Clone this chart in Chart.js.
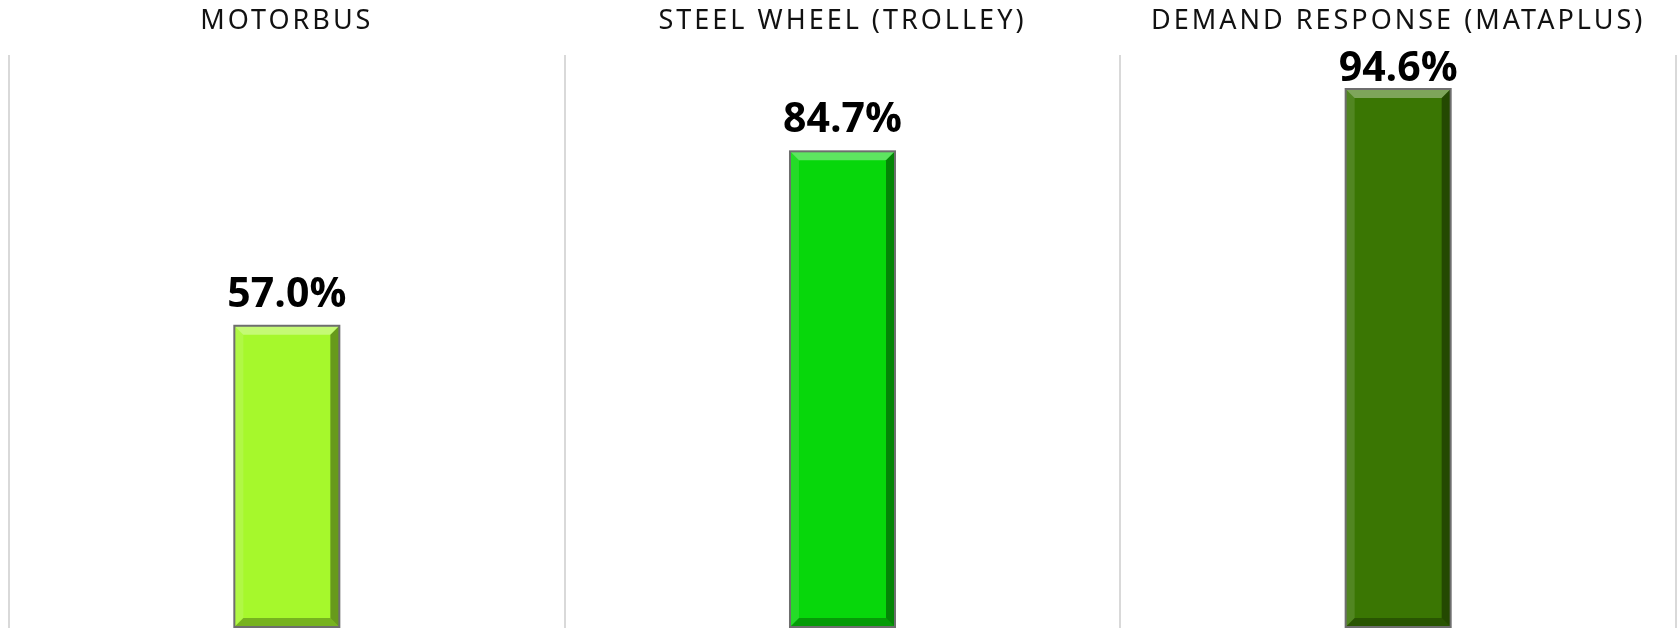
<!DOCTYPE html>
<html>
<head>
<meta charset="utf-8">
<script src="https://cdn.jsdelivr.net/npm/chart.js@4"></script>
<style>
  html, body { margin: 0; padding: 0; background: #fff; overflow: hidden; }
  #wrap { width: 1680px; height: 628px; }
</style>
</head>
<body>
<div id="wrap"><canvas id="ridershipChart"></canvas></div>
<script>
const categories = ["MOTORBUS", "STEEL WHEEL (TROLLEY)", "DEMAND RESPONSE (MATAPLUS)"];
const shareValues = [57.0, 84.7, 94.6];
const barColors = ["#a6f82c", "#07d70b", "#3a7603"];

// bevel + border + value labels drawn on top of the library's bar elements
const bevelBars = {
  id: "bevelBars",
  afterDatasetsDraw(chart) {
    const ctx = chart.ctx;
    const area = chart.chartArea;
    const meta = chart.getDatasetMeta(0);
    meta.data.forEach((bar, i) => {
      const p = bar.getProps(["x", "y", "base", "width"], true);
      const l = p.x - p.width / 2, r = p.x + p.width / 2;
      const t = p.y, b = Math.min(p.base, area.bottom - 1);
      const d = 9;
      ctx.save();
      // top
      ctx.fillStyle = "rgba(255,255,255,0.35)";
      ctx.beginPath();
      ctx.moveTo(l, t); ctx.lineTo(r, t); ctx.lineTo(r - d, t + d); ctx.lineTo(l + d, t + d);
      ctx.closePath(); ctx.fill();
      // left
      ctx.fillStyle = "rgba(255,255,255,0.12)";
      ctx.beginPath();
      ctx.moveTo(l, t); ctx.lineTo(l + d, t + d); ctx.lineTo(l + d, b - d); ctx.lineTo(l, b);
      ctx.closePath(); ctx.fill();
      // right
      ctx.fillStyle = "rgba(0,0,0,0.38)";
      ctx.beginPath();
      ctx.moveTo(r, t); ctx.lineTo(r - d, t + d); ctx.lineTo(r - d, b - d); ctx.lineTo(r, b);
      ctx.closePath(); ctx.fill();
      // bottom
      ctx.fillStyle = "rgba(0,0,0,0.28)";
      ctx.beginPath();
      ctx.moveTo(l, b); ctx.lineTo(l + d, b - d); ctx.lineTo(r - d, b - d); ctx.lineTo(r, b);
      ctx.closePath(); ctx.fill();
      // outline
      ctx.strokeStyle = "#6e6e6e";
      ctx.lineWidth = 2;
      ctx.strokeRect(l, t, r - l, b - t);

      // value label, kept inside the plot area like the original
      ctx.letterSpacing = "0px";
      ctx.fillStyle = "#000";
      ctx.font = "bold 41px 'Open Sans'";
      ctx.textAlign = "center";
      ctx.textBaseline = "alphabetic";
      const ly = Math.max(t - 19, area.top + 26);
      ctx.fillText(shareValues[i].toFixed(1) + "%", p.x, ly);
      ctx.restore();
    });
  }
};

const spacedTicks = {
  id: "spacedTicks",
  beforeDraw(chart) { chart.ctx.letterSpacing = "3px"; },
  afterDraw(chart) { chart.ctx.letterSpacing = "0px"; }
};

new Chart(document.getElementById("ridershipChart").getContext("2d"), {
  type: "bar",
  data: {
    labels: categories,
    datasets: [{
      data: shareValues,
      backgroundColor: barColors,
      borderWidth: 0,
      barPercentage: 0.189,
      categoryPercentage: 1.0,
    }],
  },
  options: {
    responsive: true,
    maintainAspectRatio: false,
    animation: false,
    layout: { padding: { top: 0, left: 9, right: 4, bottom: 0 } },
    plugins: {
      legend: { display: false },
      tooltip: { enabled: false },
      title: { display: false },
    },
    scales: {
      x: {
        position: "top",
        afterFit(scale) { scale.height = 55; },
        grid: { display: true, color: "#d9d9d9", lineWidth: 2, drawTicks: false, offset: true },
        border: { display: false },
        ticks: {
          color: "#111",
          padding: 17,
          font: { size: 27, family: "'Noto Sans'" },
          maxRotation: 0,
        },
      },
      y: {
        display: false,
        min: 9,
        max: 100,
        grid: { display: false },
      },
    },
  },
  plugins: [bevelBars, spacedTicks],
});
</script>
</body>
</html>
